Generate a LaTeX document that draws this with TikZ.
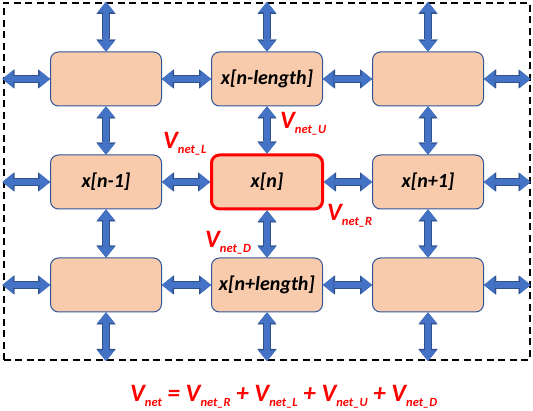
\documentclass[tikz,border=0pt]{standalone}
\usepackage{fontspec}
\setmainfont{Carlito}
\usetikzlibrary{arrows.meta}
\definecolor{cellfill}{HTML}{F8CBAD}
\definecolor{celledge}{HTML}{2F5597}
\definecolor{arrblue}{HTML}{4472C4}
\definecolor{arredge}{HTML}{2F528F}
\definecolor{netred}{HTML}{FF0000}
% V with a lowered subscript
\newcommand{\vsub}[1]{V\raisebox{-4.5pt}{\fontsize{12.5}{12.5}\selectfont #1}}
\begin{document}
\begin{tikzpicture}[x=1pt,y=-1pt,
  cell/.style={draw=celledge, line width=1pt, fill=cellfill, rounded corners=8pt,
    minimum width=111pt, minimum height=54pt, inner sep=0pt,
    font=\fontsize{20}{20}\selectfont\bfseries\itshape},
  hotcell/.style={cell, draw=netred, line width=3pt},
  fatarr/.style={arrblue, line width=6.6pt,
    {Triangle[width=17pt,length=10.5pt,line width=0.01pt]}-{Triangle[width=17pt,length=10.5pt,line width=0.01pt]},
    preaction={draw=arredge, line width=8pt,
      {Triangle[width=19pt,length=12pt,line width=0.01pt]}-{Triangle[width=19pt,length=12pt,line width=0.01pt]}}},
  vlab/.style={text=netred, anchor=base west, inner sep=0pt,
    font=\fontsize{25}{25}\selectfont\bfseries\itshape}]
\useasboundingbox (0,0) rectangle (533,411);
\def\cw{161}   % column pitch
\def\rh{103}   % row pitch
% dashed outer frame
\node[draw, dash pattern=on 7pt off 4.5pt, line width=2pt,
  minimum width=526pt, minimum height=357pt, inner sep=0pt] (frame) at (266.5,181.5) {};
% the nine cells
\foreach \r/\c/\txt in {1/1/{},1/2/x[n-length],1/3/{},2/1/x[n-1],2/3/x[n+1],3/1/{},3/2/x[n+length],3/3/{}}{
  \node[cell] (c\r\c) at ({106+(\c-1)*\cw},{79+(\r-1)*\rh}) {\txt};
}
\node[hotcell] (c22) at ({106+\cw},{79+\rh}) {x[n]};
% links between neighbours and out to the frame
\foreach \r in {1,2,3}{
  \draw[fatarr] (frame.west |- c\r1.west) -- (c\r1.west);
  \draw[fatarr] (c\r1.east) -- (c\r2.west);
  \draw[fatarr] (c\r2.east) -- (c\r3.west);
  \draw[fatarr] (c\r3.east) -- (frame.east |- c\r3.east);
}
\foreach \c in {1,2,3}{
  \draw[fatarr] (frame.north -| c1\c.north) -- (c1\c.north);
  \draw[fatarr] (c1\c.south) -- (c2\c.north);
  \draw[fatarr] (c2\c.south) -- (c3\c.north);
  \draw[fatarr] (c3\c.south) -- (frame.south -| c3\c.south);
}
% flux labels round x[n]
\node[vlab] (vl) at (163,149) {\vsub{net\_L}};
\node[vlab] (vu) at (280,129) {\vsub{net\_U}};
\node[vlab] (vr) at (327,221) {\vsub{net\_R}};
\node[vlab] (vd) at (205,248) {\vsub{net\_D}};
% the sum
\node[vlab] (vsum) at (130,402) {\vsub{net} = \vsub{net\_R} + \vsub{net\_L} + \vsub{net\_U} + \vsub{net\_D}};
\end{tikzpicture}
\end{document}
